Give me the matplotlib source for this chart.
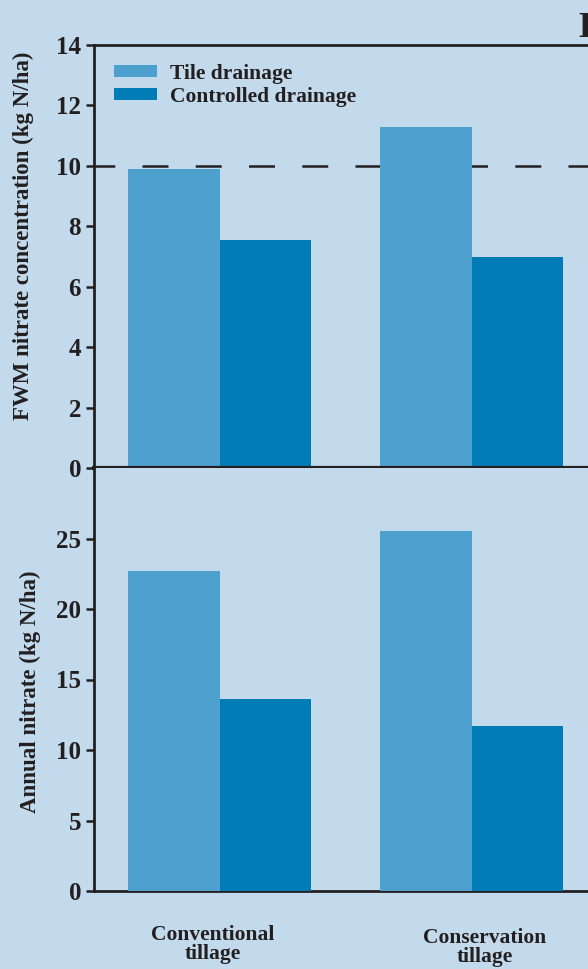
import numpy as np
import matplotlib.pyplot as plt

groups = ["Conventional\ntillage", "Conservation\ntillage"]
series = ["Tile drainage", "Controlled drainage"]
fwm_tile = [9.9, 11.3]
fwm_ctrl = [7.55, 7.0]
annual_tile = [22.7, 25.5]
annual_ctrl = [13.6, 11.7]
fwm_limit = 10

bg = "#C2DAEC"
c_tile = "#4EA0CE"
c_ctrl = "#007CB7"
ink = "#231F20"

plt.rcParams["font.family"] = ["Liberation Serif", "DejaVu Serif"]
plt.rcParams["font.weight"] = "bold"

W, H = 588, 969
fig = plt.figure(figsize=(W/100, H/100), dpi=100, facecolor=bg)
left = 93.5/W
ax1 = fig.add_axes([left, 1-468/H, 1-left, (468-45)/H])
ax2 = fig.add_axes([left, 1-891/H, 1-left, (891-468)/H])

x = np.arange(len(groups))
w = 0.365

def style(ax):
    ax.set_facecolor(bg)
    ax.spines["right"].set_visible(False)
    for s in ["left", "bottom", "top"]:
        ax.spines[s].set_color(ink)
        ax.spines[s].set_linewidth(2)
    ax.tick_params(axis="y", direction="out", length=6, width=1.8, colors=ink,
                   labelsize=18, pad=3)
    ax.tick_params(axis="x", length=0, labelbottom=False)
    ax.set_xlim(-0.5, (W-219.5)/252)
    for lab in ax.get_yticklabels():
        lab.set_fontweight("bold")

# top panel
ax1.bar(x - w/2, fwm_tile, w, color=c_tile, label=series[0], zorder=3)
ax1.bar(x + w/2, fwm_ctrl, w, color=c_ctrl, label=series[1], zorder=3)
ax1.axhline(fwm_limit, color=ink, lw=1.8, linestyle=(2.1, (10.4, 10.9)), zorder=2)
ax1.set_ylim(0, 14)
ax1.set_yticks(range(0, 15, 2))
style(ax1)
ax1.spines["bottom"].set_linewidth(3)
ax1.spines["bottom"].set_zorder(5)

leg = ax1.legend(loc="upper left", bbox_to_anchor=(114/W, 1-64/H),
                 bbox_transform=fig.transFigure, frameon=False, fontsize=15.5,
                 handlelength=2.0, handleheight=0.5, handletextpad=0.6,
                 labelspacing=0.12, borderpad=0, borderaxespad=0)
for t in leg.get_texts():
    t.set_color(ink)
    t.set_fontweight("bold")

# bottom panel
ax2.bar(x - w/2, annual_tile, w, color=c_tile, zorder=3)
ax2.bar(x + w/2, annual_ctrl, w, color=c_ctrl, zorder=3)
ax2.set_ylim(0, 30)
ax2.set_yticks(range(0, 26, 5))
style(ax2)
ax2.spines["top"].set_visible(False)

# labels
fig.text(23/W, 1-236/H, "FWM nitrate concentration (kg N/ha)", rotation=90,
         ha="center", va="center", fontsize=16.5, color=ink, fontweight="bold")
fig.text(30/W, 1-692/H, "Annual nitrate (kg N/ha)", rotation=90,
         ha="center", va="center", fontsize=16.5, color=ink, fontweight="bold")
for gx, gy, g in zip([212.5, 485], [925, 928], groups):
    fig.text(gx/W, 1-gy/H, g, ha="center", va="top", fontsize=15.5,
             color=ink, fontweight="bold", linespacing=0.95)
fig.text(578/W, 1-37/H, "B", ha="left", va="baseline", fontsize=26,
         color=ink, fontweight="bold")

fig.savefig("out.png", dpi=100, facecolor=bg)
